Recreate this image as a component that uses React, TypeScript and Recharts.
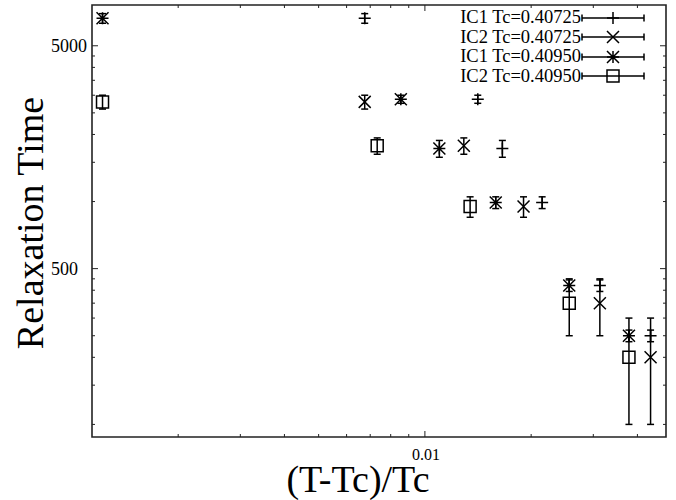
import React from 'react';
import { ScatterChart, Scatter, XAxis, YAxis, ErrorBar, ReferenceArea, Legend } from 'recharts';

const SERIF = '"Liberation Serif", "Times New Roman", serif';
const W = 676;
const H = 500;
const M = { top: 5, right: 10, bottom: 0, left: 0 };
const Y_AXIS_W = 92;
const X_AXIS_H = 63;
const PLOT_TOP = M.top;
const PLOT_RIGHT = W - M.right;

const X_DOMAIN = [0.00114, 0.0482];
const Y_DOMAIN = [87.8, 7620];

const X_TICKS = [0.002, 0.003, 0.004, 0.005, 0.006, 0.007, 0.008, 0.009, 0.01, 0.02, 0.03, 0.04];
const X_LABELED = [0.01];
const Y_TICKS = [
  100, 150, 200, 250, 300, 350, 400, 450, 500,
  1000, 1500, 2000, 2500, 3000, 3500, 4000, 4500, 5000,
];
const Y_LABELED = [500, 5000];

// (T-Tc)/Tc for each run
const ic1Tc40725X = [0.006753, 0.014119, 0.016575, 0.021486, 0.031308, 0.043585];
const ic1Tc40950X = [0.001221, 0.008547, 0.010989, 0.015873, 0.025641, 0.037851];
const ic1Tau = [6640, 2880, 1730, 990, 420, 250];
const ic1Err = [330, 120, 150, 60, 25, 15];

const ic2Tc40725X = [0.006753, 0.012891, 0.01903, 0.031308, 0.043585];
const ic2Tc40950X = [0.001221, 0.007326, 0.013431, 0.025641, 0.037851];
const ic2Tau = [2800, 1780, 950, 350, 200];
const ic2Err = [200, 150, 100, 100, 100];

const toPoints = (xs: number[], ys: number[], errs: number[]) =>
  xs.map((x, i) => ({ x, y: ys[i], err: errs[i] }));

type Sym = 'plus' | 'cross' | 'star' | 'square';

const SERIES: { name: string; sym: Sym; data: { x: number; y: number; err: number }[] }[] = [
  { name: 'IC1 Tc=0.40725', sym: 'plus', data: toPoints(ic1Tc40725X, ic1Tau, ic1Err) },
  { name: 'IC2 Tc=0.40725', sym: 'cross', data: toPoints(ic2Tc40725X, ic2Tau, ic2Err) },
  { name: 'IC1 Tc=0.40950', sym: 'star', data: toPoints(ic1Tc40950X, ic1Tau, ic1Err) },
  { name: 'IC2 Tc=0.40950', sym: 'square', data: toPoints(ic2Tc40950X, ic2Tau, ic2Err) },
];

const symbolPath = (sym: Sym, cx: number, cy: number) => {
  const s = 6;
  const plus = `M${cx - s},${cy}H${cx + s}M${cx},${cy - s}V${cy + s}`;
  const cross = `M${cx - s},${cy - s}L${cx + s},${cy + s}M${cx + s},${cy - s}L${cx - s},${cy + s}`;
  if (sym === 'plus') return plus;
  if (sym === 'cross') return cross;
  if (sym === 'star') return plus + cross;
  return `M${cx - s},${cy - s}H${cx + s}V${cy + s}H${cx - s}Z`;
};

const makeShape = (sym: Sym) => (props: any) => {
  const { cx, cy } = props;
  if (cx == null || cy == null) return <g />;
  return <path d={symbolPath(sym, cx, cy)} fill="none" stroke="#000" strokeWidth={1.5} />;
};

const XTick = (props: any) => {
  const { x, y, payload } = props;
  const major = X_LABELED.includes(payload.value);
  const len = major ? 6 : 3;
  return (
    <g>
      <line x1={x} y1={y} x2={x} y2={y - len} stroke="#222" />
      <line x1={x} y1={PLOT_TOP} x2={x} y2={PLOT_TOP + len} stroke="#222" />
      {major && (
        <text x={x + 1} y={460} textAnchor="middle" fontSize={16} fontFamily={SERIF} fill="#000">
          {payload.value}
        </text>
      )}
    </g>
  );
};

const YTick = (props: any) => {
  const { x, y, payload } = props;
  const major = Y_LABELED.includes(payload.value);
  const len = major ? 6 : 3;
  return (
    <g>
      <line x1={x} y1={y} x2={x + len} y2={y} stroke="#222" />
      <line x1={PLOT_RIGHT} y1={y} x2={PLOT_RIGHT - len} y2={y} stroke="#222" />
      {major && (
        <text x={51} y={y + 6} textAnchor="start" fontSize={18} fontFamily={SERIF} fill="#000">
          {payload.value}
        </text>
      )}
    </g>
  );
};

const renderLegend = () => (
  <div style={{ fontFamily: SERIF, fontSize: 18.5, color: '#000' }}>
    {SERIES.map((s) => (
      <div key={s.name} style={{ display: 'flex', alignItems: 'center', height: 19.5 }}>
        <span style={{ width: 143, textAlign: 'right', whiteSpace: 'nowrap', lineHeight: '19px' }}>{s.name}</span>
        <svg width={64} height={18} style={{ display: 'block' }}>
          <path d="M1,9H63M1,5.5V12.5M63,5.5V12.5" stroke="#000" strokeWidth={1.5} fill="none" />
          <path d={symbolPath(s.sym, 32, 9)} stroke="#000" strokeWidth={1.5} fill="none" />
        </svg>
      </div>
    ))}
  </div>
);

export default function App() {
  return (
    <div style={{ position: 'absolute', left: 0, top: 0, width: W, height: H, background: '#fff' }}>
      <ScatterChart width={W} height={H} margin={M}>
        <XAxis
          type="number"
          dataKey="x"
          scale="log"
          domain={X_DOMAIN}
          allowDataOverflow
          ticks={X_TICKS}
          interval={0}
          height={X_AXIS_H}
          tickSize={0}
          tickMargin={0}
          axisLine={false}
          tickLine={false}
          tick={XTick}
          label={{
            content: () => (
              <text x={358} y={492} textAnchor="middle" fontSize={38} fontFamily={SERIF} fill="#000">
                (T-Tc)/Tc
              </text>
            ),
          }}
        />
        <YAxis
          type="number"
          dataKey="y"
          scale="log"
          domain={Y_DOMAIN}
          allowDataOverflow
          ticks={Y_TICKS}
          interval={0}
          width={Y_AXIS_W}
          tickSize={0}
          tickMargin={0}
          axisLine={false}
          tickLine={false}
          tick={YTick}
          label={{
            content: () => (
              <text
                x={43}
                y={223}
                transform="rotate(-90, 43, 223)"
                textAnchor="middle"
                fontSize={38}
                fontFamily={SERIF}
                fill="#000"
              >
                Relaxation Time
              </text>
            ),
          }}
        />
        <ReferenceArea
          x1={X_DOMAIN[0]}
          x2={X_DOMAIN[1]}
          y1={Y_DOMAIN[0]}
          y2={Y_DOMAIN[1]}
          fill="none"
          fillOpacity={0}
          stroke="#222"
          strokeWidth={1.6}
        />
        <Legend
          layout="horizontal"
          verticalAlign="middle"
          align="center"
          content={renderLegend}
          wrapperStyle={{ left: 438, top: 8, width: 210, height: 80 }}
        />
        {SERIES.map((s) => (
          <Scatter key={s.name} name={s.name} data={s.data} shape={makeShape(s.sym)} isAnimationActive={false}>
            <ErrorBar dataKey="err" direction="y" width={3.5} stroke="#000" strokeWidth={1.5} isAnimationActive={false} />
          </Scatter>
        ))}
      </ScatterChart>
    </div>
  );
}
